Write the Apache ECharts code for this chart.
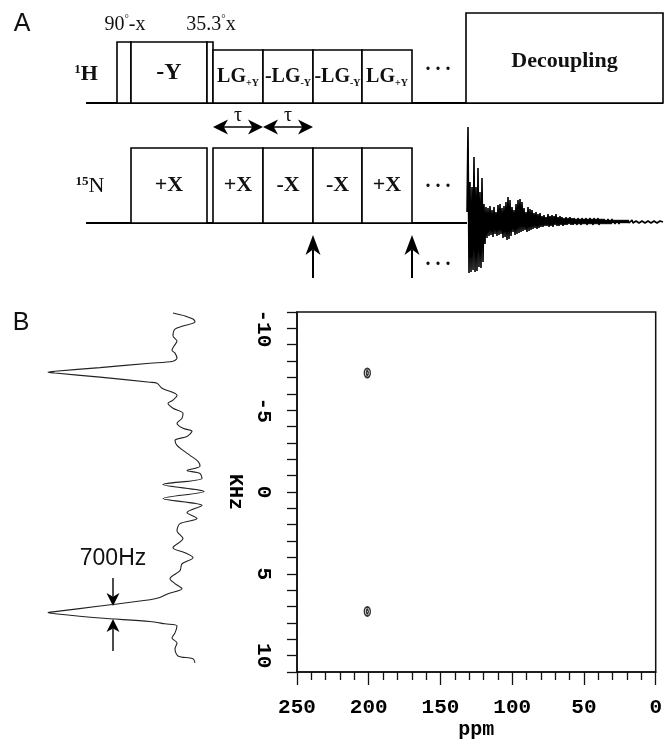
<!DOCTYPE html>
<html><head><meta charset="utf-8">
<script src="https://cdn.jsdelivr.net/npm/echarts@6/dist/echarts.min.js"></script>
<style>html,body{margin:0;padding:0;background:#fff}#c{width:665px;height:741px}</style>
</head><body><div id="c"></div>
<script>
// ---------------- DATA ----------------
// Panel A: pulse sequence (sequence time axis, amplitude = rf power)
const hPulseStart = [117, 131, 207, 213, 263, 313, 362, 466];
const hPulseEnd   = [131, 207, 213, 263, 313, 362, 412, 663];
const hPulsePower = [61, 61, 61, 53, 53, 53, 53, 90];
const hPulsePhase = ['', '-Y', '', 'LG_+Y', '-LG_-Y', '-LG_-Y', 'LG_+Y', 'Decoupling'];
const hPulseAngle = ['90°-x', '', '35.3°x', '', '', '', '', ''];
const nPulseStart = [131, 213, 263, 313, 362];
const nPulseEnd   = [207, 263, 313, 362, 412];
const nPulsePower = [75, 75, 75, 75, 75];
const nPulsePhase = ['+X', '+X', '-X', '-X', '+X'];
const channelNames = ['1H', '15N'];
const channelStart = [86, 86];
const channelEnd = [663, 467];
const tauStart = [213, 263];
const tauEnd = [263, 313];
const acqTimes = [313, 412];
// FID (acquired 15N signal), one sample per time step
const fidSignal = [
  10, 95, -51, 40, -50, 35, -48, 65, -50, 35, -49, 54, -45, 30, -46, 44, -40, 18, -22, 15,
  -16, 14, -14, 16, -13, 12, -15, 15, -12, 10, -14, 17, -13, 18, -12, 14, -16, 16, -15, 20,
  -18, 25, -17, 22, -14, 15, -10, 12, -13, 18, -12, 22, -11, 23, -10, 20, -9, 14, -8, 10,
  -10, 15, -9, 13, -8, 12, -7, 9, -6, 10, -7, 8, -6, 9, -5, 6, -5, 7, -4, 5,
  -4, 8, -5, 6, -4, 7, -5, 6, -3, 8, -4, 5, -4, 6, -3, 5, -4, 4, -3, 5,
  -3, 4, -2, 5, -3, 4, -3, 4, -2, 3, -3, 4, -2, 3, -3, 4, -2, 3, -2, 4,
  -3, 3, -2, 4, -2, 3, -3, 4, -2, 3, -2, 4, -3, 3, -2, 3, -2, 3, -2, 2,
  -2, 3, -2, 2, -2, 3, -1, 2, -2, 2, -1, 2, -2, 2, -1, 2, -1, 2, -1, 2,
  -1, 2, -1, 1, -1, 2, -1, 1, -1, 1, -1, 1, -1, 1, -1, 1, -1, 1, -1, 1,
  -1, 1, -1, 1, -1, 1, -1, 1, -1, 1, -1, 1, -1, 1, -1, 1, 0
];
// Panel B left: 1D projection (frequency in kHz, intensity)
const traceKHz = [
  -10.94, -10.76, -10.57, -10.39, -10.15, -9.96, -9.54, -9.23, -8.93, -8.68, -8.50, -8.20, -8.01,
  -7.89, -7.62, -7.40, -7.34, -7.29, -7.04, -6.73, -6.67, -6.37, -5.94,
  -5.64, -5.45, -5.15, -4.84, -4.54, -4.24, -3.93, -3.75, -3.44, -3.20, -2.89, -2.59, -2.29, -1.92,
  -1.62, -1.37, -1.19, -0.88, -0.52, -0.09, 0.34, 0.76, 1.19, 1.55, 1.86, 2.29, 2.77, 3.32, 3.63,
  3.93, 4.30, 4.72, 5.21, 5.51, 5.82, 6.12, 6.37, 6.49,
  6.87, 7.21, 7.27, 7.34, 7.60, 7.81, 7.95, 8.07, 8.50, 8.81, 9.11, 9.48, 9.90, 10.08, 10.33
];
const traceIntensity = [
  32, 20, 12, 10, 22, 30, 32, 28, 31, 33, 30, 28, 32,
  55, 105, 150, 157, 150, 105, 55, 48, 43, 28,
  32, 37, 32, 22, 23, 28, 22, 13, 18, 30, 28, 22, 15, 7,
  5, 18, 5, 3, 42, 1, 42, 3, 18, 8, 25, 28, 22, 32, 20,
  12, 23, 25, 35, 30, 23, 37, 46, 55,
  105, 150, 157, 150, 105, 55, 40, 28, 30, 33, 28, 30, 27, 12, 10
];
const halfWidthIntensity = 92;
const halfWidthKHz = [6.87, 7.66];
const halfWidthText = '700Hz';
// Panel B right: 2D spectrum peaks
const peakPpm = [201, 201];
const peakKHz = [-7.27, 7.30];
const xTickValues = [0, 50, 100, 150, 200, 250];
const xTickLabels = ['0', '50', '100', '150', '200', '250'];
const yTickValues = [-10, -5, 0, 5, 10];
const yTickLabels = ['-10', '-5', '0', '5', '10'];

// ---------------- LAYOUT / STYLE ----------------
const SERIF = "'Liberation Serif','DejaVu Serif',serif";
const SANS = "'Liberation Sans','DejaVu Sans',sans-serif";
const MONO = "'Liberation Mono','DejaVu Sans Mono',monospace";
const INK = '#111';
const channelBase = [103, 223];   // baseline level of each channel row in panel A
const tauRow = 127;
const acqArrowFrom = 278, acqArrowTo = 235;

const chart = echarts.init(document.getElementById('c'), null, {renderer: 'canvas'});

function headPts(p0, p1, L, W) {
  const dx = p1[0] - p0[0], dy = p1[1] - p0[1];
  const len = Math.hypot(dx, dy) || 1;
  const ux = dx / len, uy = dy / len, nx = -uy, ny = ux;
  const bx = p1[0] - ux * L, by = p1[1] - uy * L;
  const mx = p1[0] - ux * L * 0.72, my = p1[1] - uy * L * 0.72;
  return {poly: [[p1[0], p1[1]], [bx + nx * W, by + ny * W], [mx, my], [bx - nx * W, by - ny * W]], neck: [mx, my]};
}
function arrowEls(p0, p1, L, W, lw, both) {
  const h1 = headPts(p0, p1, L, W);
  const els = [];
  let start = p0;
  if (both) {
    const h0 = headPts(p1, p0, L, W);
    els.push({type: 'polygon', shape: {points: h0.poly}, style: {fill: '#000'}});
    start = h0.neck;
  }
  els.push({type: 'line', shape: {x1: start[0], y1: start[1], x2: h1.neck[0], y2: h1.neck[1]}, style: {stroke: '#000', lineWidth: lw}});
  els.push({type: 'polygon', shape: {points: h1.poly}, style: {fill: '#000'}});
  return els;
}

const phaseRich = {
  big: {fontSize: 24, fontWeight: 'bold', fontFamily: SERIF, fill: INK, lineHeight: 26},
  lg: {fontSize: 20, fontWeight: 'bold', fontFamily: SERIF, fill: INK, lineHeight: 24},
  sub: {fontSize: 10, fontWeight: 'bold', fontFamily: SERIF, fill: INK, lineHeight: 10, verticalAlign: 'bottom'},
  dec: {fontSize: 22, fontWeight: 'bold', fontFamily: SERIF, fill: INK, lineHeight: 24},
  x: {fontSize: 22, fontWeight: 'bold', fontFamily: SERIF, fill: INK, lineHeight: 24}
};
const angleRich = {
  n: {fontSize: 20, fontFamily: SERIF, fill: INK, lineHeight: 22},
  d: {fontSize: 11, fontFamily: SERIF, fill: INK, lineHeight: 11, verticalAlign: 'top'}
};
function phaseText(s, ch) {
  if (!s) return '';
  if (s.indexOf('_') >= 0) { const p = s.split('_'); return '{lg|' + p[0] + '}{sub|' + p[1] + '}'; }
  if (s === 'Decoupling') return '{dec|' + s + '}';
  return ch === 1 ? '{x|' + s + '}' : '{big|' + s + '}';
}
function angleText(s) {
  const p = s.split('°');
  return '{n|' + p[0] + '}{d|°}{n|' + p[1] + '}';
}

const pulseData = [];
const pulseInfo = [];
hPulseStart.forEach((s, i) => { pulseData.push([s, hPulseEnd[i], hPulsePower[i], 0]); pulseInfo.push({phase: hPulsePhase[i], angle: hPulseAngle[i], ch: 0}); });
nPulseStart.forEach((s, i) => { pulseData.push([s, nPulseEnd[i], nPulsePower[i], 1]); pulseInfo.push({phase: nPulsePhase[i], angle: '', ch: 1}); });

function renderPulse(params, api) {
  const s = api.value(0), e = api.value(1), pw = api.value(2), ch = api.value(3);
  const base = channelBase[ch];
  const a = api.coord([s, base]), b = api.coord([e, base - pw]);
  const info = pulseInfo[params.dataIndex];
  const children = [{type: 'rect', shape: {x: a[0], y: b[1], width: b[0] - a[0], height: a[1] - b[1]},
    style: {fill: '#fff', stroke: '#000', lineWidth: 1.6}}];
  if (info.phase) children.push({type: 'text', x: (a[0] + b[0]) / 2, y: (a[1] + b[1]) / 2 + (info.phase === 'Decoupling' ? 3 : 0),
    style: {text: phaseText(info.phase, info.ch), rich: phaseRich, align: 'center', verticalAlign: 'middle'}});
  if (info.angle) children.push({type: 'text', x: (a[0] + b[0]) / 2 + 1, y: b[1] - 6,
    style: {text: angleText(info.angle), rich: angleRich, align: 'center', verticalAlign: 'bottom'}});
  return {type: 'group', children};
}
function renderBaseline(params, api) {
  const ch = api.value(2);
  const a = api.coord([api.value(0), channelBase[ch]]), b = api.coord([api.value(1), channelBase[ch]]);
  return {type: 'line', shape: {x1: a[0], y1: a[1], x2: b[0], y2: b[1]}, style: {stroke: '#000', lineWidth: 1.8}, z2: -1};
}
function renderTau(params, api) {
  const a = api.coord([api.value(0), tauRow]), b = api.coord([api.value(1), tauRow]);
  const els = arrowEls(a, b, 15, 7.5, 1.5, true);
  els.push({type: 'text', x: (a[0] + b[0]) / 2, y: a[1] - 11, style: {text: 'τ', fontSize: 20, fontFamily: SERIF, fill: INK, align: 'center', verticalAlign: 'middle'}});
  return {type: 'group', children: els};
}
function renderAcq(params, api) {
  const a = api.coord([api.value(0), acqArrowFrom]), b = api.coord([api.value(0), acqArrowTo]);
  return {type: 'group', children: arrowEls(a, b, 20, 7.5, 2, false)};
}
function renderHalfWidth(params, api) {
  const x = api.value(0);
  const top = api.coord([x, api.value(1)]), bot = api.coord([x, api.value(2)]);
  const a0 = [top[0], top[1] - 28], a1 = [bot[0], bot[1] + 32];
  const els = arrowEls(a0, top, 13, 6.5, 1.4, false).concat(arrowEls(a1, bot, 13, 6.5, 1.4, false));
  els.push({type: 'text', x: top[0], y: top[1] - 47, style: {text: halfWidthText, fontSize: 23, fontFamily: SANS, fill: INK, align: 'center', verticalAlign: 'middle'}});
  return {type: 'group', children: els};
}

const option = {
  animation: false,
  backgroundColor: '#fff',
  grid: [
    {left: 0, top: 0, width: 665, height: 300},                 // panel A sequence
    {left: 467, top: 122, width: 196, height: 160},             // FID
    {left: 45, top: 312, width: 160, height: 362},              // projection
    {left: 297, right: 7, top: 312, bottom: 67, show: true, borderColor: INK, borderWidth: 1.5} // 2D
  ],
  xAxis: [
    {gridIndex: 0, type: 'value', min: 0, max: 665, show: false},
    {gridIndex: 1, type: 'value', min: 0, max: 196, show: false},
    {gridIndex: 2, type: 'value', min: 0, max: 160, inverse: true, show: false},
    {gridIndex: 3, type: 'value', min: 0, max: 250, interval: 50, inverse: true,
      axisLine: {show: true, onZero: false, lineStyle: {color: INK, width: 1.6}},
      axisTick: {show: true, length: 13, lineStyle: {color: INK, width: 1.3}},
      minorTick: {show: true, splitNumber: 5, length: 8, lineStyle: {color: INK, width: 1.3}},
      splitLine: {show: false}, minorSplitLine: {show: false},
      axisLabel: {color: '#000', fontFamily: MONO, fontWeight: 'bold', fontSize: 21, margin: 25,
        formatter: v => { const i = xTickValues.indexOf(Math.round(v)); return i >= 0 ? xTickLabels[i] : ''; }},
      name: 'ppm', nameLocation: 'middle', nameGap: 48,
      nameTextStyle: {color: '#000', fontFamily: MONO, fontWeight: 'bold', fontSize: 20}}
  ],
  yAxis: [
    {gridIndex: 0, type: 'value', min: 0, max: 300, inverse: true, show: false},
    {gridIndex: 1, type: 'value', min: -60, max: 100, show: false},
    {gridIndex: 2, type: 'value', min: -11, max: 11, inverse: true, show: false},
    {gridIndex: 3, type: 'value', min: -11, max: 11, interval: 1, inverse: true,
      axisLine: {show: true, onZero: false, lineStyle: {color: INK, width: 1.6}},
      axisTick: {show: true, length: 10, lineStyle: {color: INK, width: 1.3}},
      splitLine: {show: false},
      axisLabel: {color: '#000', fontFamily: MONO, fontWeight: 'bold', fontSize: 21, margin: 23, rotate: -90,
        formatter: v => { const i = yTickValues.indexOf(Math.round(v)); return (i >= 0 && Math.abs(v - Math.round(v)) < 1e-6) ? yTickLabels[i] : ''; }},
      name: 'KHz', nameLocation: 'middle', nameGap: 42, nameRotate: -90,
      nameTextStyle: {color: '#000', fontFamily: MONO, fontWeight: 'bold', fontSize: 20}}
  ],
  series: [
    {type: 'custom', name: 'baselines', xAxisIndex: 0, yAxisIndex: 0, renderItem: renderBaseline,
      data: channelStart.map((s, i) => [s, channelEnd[i], i]), z: 1},
    {type: 'custom', name: 'pulses', xAxisIndex: 0, yAxisIndex: 0, renderItem: renderPulse, data: pulseData, z: 2},
    {type: 'custom', name: 'tau', xAxisIndex: 0, yAxisIndex: 0, renderItem: renderTau,
      data: tauStart.map((s, i) => [s, tauEnd[i]]), z: 3},
    {type: 'custom', name: 'acq', xAxisIndex: 0, yAxisIndex: 0, renderItem: renderAcq,
      data: acqTimes.map(t => [t]), z: 3},
    {type: 'line', name: 'fid', xAxisIndex: 1, yAxisIndex: 1, showSymbol: false, symbol: 'none',
      lineStyle: {color: '#000', width: 1.6}, data: fidSignal.map((v, i) => [i, v]), z: 3},
    {type: 'line', name: 'projection', xAxisIndex: 2, yAxisIndex: 2, showSymbol: false, symbol: 'none', smooth: 0.3,
      lineStyle: {color: '#222', width: 1.1}, data: traceIntensity.map((v, i) => [v, traceKHz[i]])},
    {type: 'custom', name: 'halfwidth', xAxisIndex: 2, yAxisIndex: 2, renderItem: renderHalfWidth,
      data: [[halfWidthIntensity, halfWidthKHz[0], halfWidthKHz[1]]]},
    {type: 'scatter', name: 'peaksOuter', xAxisIndex: 3, yAxisIndex: 3, symbol: 'circle', symbolSize: [6, 9],
      itemStyle: {color: 'rgba(0,0,0,0)', borderColor: '#000', borderWidth: 1.7},
      data: peakPpm.map((p, i) => [p, peakKHz[i]])},
    {type: 'scatter', name: 'peaksInner', xAxisIndex: 3, yAxisIndex: 3, symbol: 'circle', symbolSize: [2, 4],
      itemStyle: {color: 'rgba(0,0,0,0)', borderColor: '#000', borderWidth: 1.2},
      data: peakPpm.map((p, i) => [p, peakKHz[i]])}
  ],
  graphic: [
    {type: 'text', x: 22, y: 24, style: {text: 'A', fontSize: 25, fontFamily: SANS, fill: INK, align: 'center', verticalAlign: 'middle'}},
    {type: 'text', x: 21, y: 323, style: {text: 'B', fontSize: 25, fontFamily: SANS, fill: INK, align: 'center', verticalAlign: 'middle'}},
    {type: 'text', x: 86, y: 74, style: {text: '{s|1}{m|H}', align: 'center', verticalAlign: 'middle',
      rich: {s: {fontSize: 13, fontWeight: 'bold', fontFamily: SERIF, fill: INK, lineHeight: 13, verticalAlign: 'top'},
             m: {fontSize: 22, fontWeight: 'bold', fontFamily: SERIF, fill: INK, lineHeight: 22}}}},
    {type: 'text', x: 90, y: 186, style: {text: '{s|15}{m|N}', align: 'center', verticalAlign: 'middle',
      rich: {s: {fontSize: 13, fontWeight: 'bold', fontFamily: SERIF, fill: INK, lineHeight: 13, verticalAlign: 'top'},
             m: {fontSize: 22, fontFamily: SERIF, fill: INK, lineHeight: 22}}}},
    {type: 'text', x: 438, y: 65, style: {text: '. . .', fontSize: 20, fontWeight: 'bold', fontFamily: SERIF, fill: INK, align: 'center', verticalAlign: 'middle'}},
    {type: 'text', x: 438, y: 182, style: {text: '. . .', fontSize: 20, fontWeight: 'bold', fontFamily: SERIF, fill: INK, align: 'center', verticalAlign: 'middle'}},
    {type: 'text', x: 438, y: 260, style: {text: '. . .', fontSize: 20, fontWeight: 'bold', fontFamily: SERIF, fill: INK, align: 'center', verticalAlign: 'middle'}}
  ]
};
chart.setOption(option);
</script></body></html>
